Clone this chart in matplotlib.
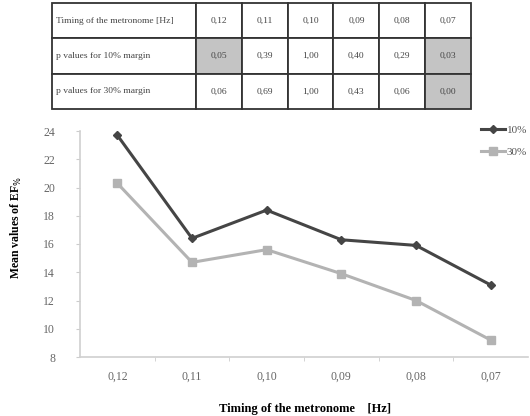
import matplotlib
matplotlib.use("Agg")
import matplotlib.pyplot as plt
import numpy as np

plt.rcParams['font.family'] = ['Liberation Serif', 'DejaVu Serif']

# metronome timing categories
categorias = ['0,12', '0,11', '0,10', '0,09', '0,08', '0,07']
serie_10 = [23.7, 16.4, 18.4, 16.3, 15.9, 13.1]
serie_30 = [20.3, 14.7, 15.6, 13.9, 12.0, 9.2]

# p values table
filas_tabla = ['Timing of the metronome [Hz]', 'p values for 10% margin', 'p values for 30% margin']
p_10 = ['0,05', '0,39', '1,00', '0,40', '0,29', '0,03']
p_30 = ['0,06', '0,69', '1,00', '0,43', '0,06', '0,00']
celdas_grises = [(1, 1), (1, 6), (2, 6)]

fig = plt.figure(figsize=(5.3, 4.16), dpi=100)

# table at the top
ax_t = fig.add_axes([52/530, 1 - 109/416, (471 - 52)/530, 106/416])
ax_t.axis('off')
texto = [[filas_tabla[0]] + categorias,
         [filas_tabla[1]] + p_10,
         [filas_tabla[2]] + p_30]
anchos = [144/419] + [(419 - 144)/6/419] * 6
tabla = ax_t.table(cellText=texto, colWidths=anchos, bbox=[0, 0, 1, 1], cellLoc='center')
tabla.auto_set_font_size(False)
for (r, c), celda in tabla.get_celld().items():
    celda.set_linewidth(1.3)
    celda.set_edgecolor('#333333')
    celda.get_text().set_fontsize(6.8)
    celda.get_text().set_color('#444444')
    if c == 0:
        celda.get_text().set_ha('left')
        celda.PAD = 0.03
    if (r, c) in celdas_grises:
        celda.set_facecolor('#c4c4c4')

# line chart
ax = fig.add_axes([80/530, 1 - 357/416, (528 - 80)/530, (357 - 131)/416])
x = np.arange(len(categorias))
ax.plot(x, serie_10, color='#454545', lw=2.2, marker='D', ms=4.5, label='10%')
ax.plot(x, serie_30, color='#b3b3b3', lw=2.2, marker='s', ms=5.5, label='30%')

ax.set_xlim(-0.5, len(categorias) - 0.5)
ax.set_ylim(8, 24)
ax.set_yticks(range(8, 25, 2))
ax.set_xticks(x)
ax.set_xticklabels(categorias)
ax.set_xticks(np.arange(0.5, len(categorias) - 1, 1), minor=True)
ax.tick_params(axis='x', which='major', length=0, pad=10, labelsize=8.5, labelcolor='#666666')
ax.tick_params(axis='x', which='minor', length=3, direction='out', color='#cccccc')
ax.tick_params(axis='y', length=3, color='#cccccc', labelsize=8.5, labelcolor='#666666', pad=15)
for lado in ['top', 'right']:
    ax.spines[lado].set_visible(False)
for lado in ['left', 'bottom']:
    ax.spines[lado].set_color('#d0d0d0')
    ax.spines[lado].set_linewidth(1.2)

ax.set_ylabel('Mean values of EF$_{\\%}$', fontsize=8.5, fontweight='bold')
ax.yaxis.set_label_coords(-56/448, (357 - 227)/226)
ax.set_xlabel('Timing of the metronome    [Hz]', fontsize=9, fontweight='bold')
ax.xaxis.set_label_coords(225/448, -46/226)

ax.legend(loc='upper right', bbox_to_anchor=(1.02, 1.07), frameon=False, fontsize=8,
          handlelength=2.2, handletextpad=0.1, labelspacing=1.1, labelcolor='#555555')

fig.savefig('out.png', dpi=100)
